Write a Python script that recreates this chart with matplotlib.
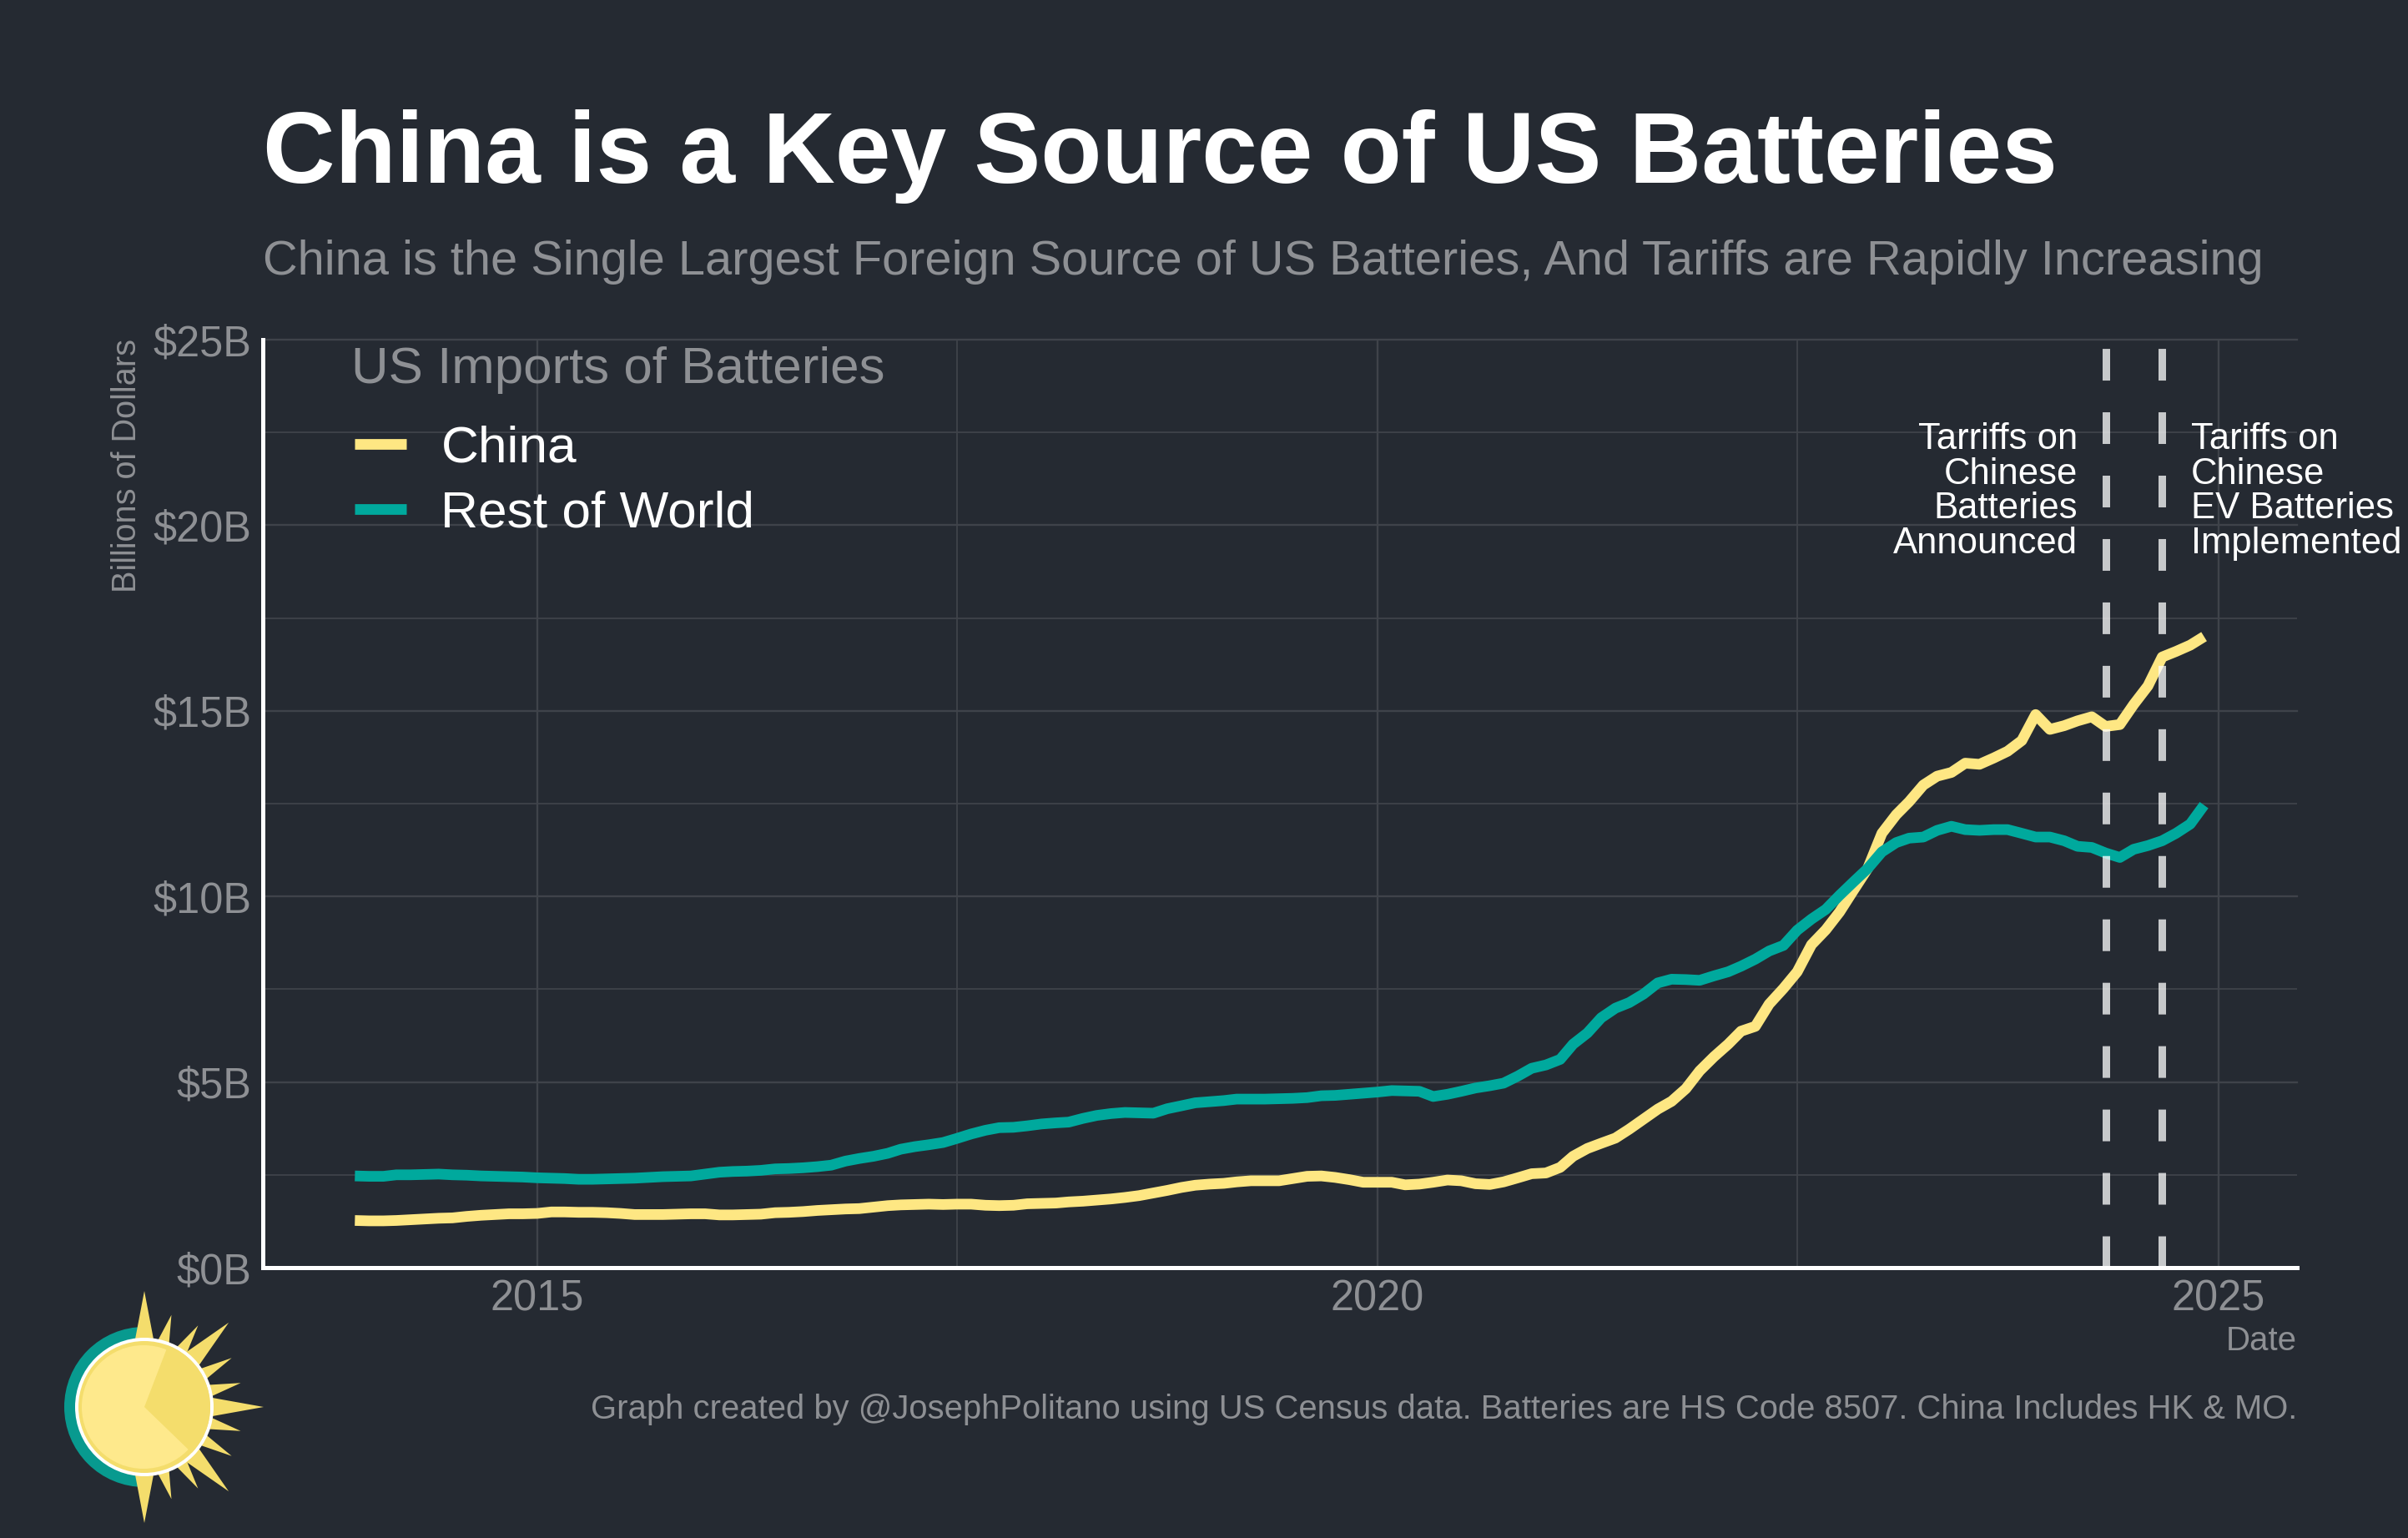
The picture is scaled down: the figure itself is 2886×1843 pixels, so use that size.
import numpy as np
import pandas as pd
import matplotlib
matplotlib.use('Agg')
import matplotlib.pyplot as plt
from matplotlib.patches import Circle, Wedge, Polygon
from matplotlib.ticker import MultipleLocator

# US imports of batteries, rolling totals, billions of dollars, monthly
dates = pd.date_range('2013-12-01', '2024-12-01', freq='MS')
china = [1.27,1.26,1.26,1.27,1.29,1.31,1.33,1.34,1.38,1.41,1.43,1.45,1.45,1.46,1.50,1.50,1.49,1.49,1.48,1.46,
         1.43,1.43,1.43,1.44,1.45,1.45,1.42,1.42,1.43,1.44,1.48,1.49,1.51,1.54,1.56,1.58,1.59,1.63,1.67,1.69,
         1.70,1.71,1.70,1.71,1.71,1.68,1.67,1.68,1.72,1.73,1.74,1.77,1.79,1.82,1.85,1.89,1.94,2.01,2.08,2.16,
         2.22,2.25,2.27,2.31,2.34,2.34,2.34,2.40,2.46,2.47,2.43,2.37,2.30,2.30,2.30,2.23,2.25,2.30,2.36,2.34,
         2.26,2.24,2.31,2.42,2.53,2.55,2.70,3.00,3.21,3.35,3.49,3.73,4.00,4.27,4.48,4.82,5.30,5.68,6.02,6.37,
         6.50,7.10,7.52,7.97,8.70,9.10,9.58,10.18,10.75,11.7,12.2,12.55,13.0,13.24,13.34,13.59,13.56,13.73,13.91,14.2,
         14.9,14.5,14.6,14.73,14.84,14.58,14.63,15.17,15.67,16.45,16.6,16.77,17.0]
rest_of_world = [2.47,2.46,2.46,2.50,2.50,2.51,2.52,2.50,2.49,2.47,2.46,2.45,2.44,2.42,2.41,2.40,2.38,2.38,2.39,2.40,
                 2.41,2.43,2.45,2.46,2.47,2.52,2.57,2.59,2.60,2.62,2.66,2.67,2.69,2.72,2.76,2.87,2.94,3.00,3.08,3.19,
                 3.26,3.31,3.37,3.48,3.60,3.70,3.77,3.78,3.82,3.87,3.90,3.92,4.02,4.10,4.15,4.18,4.17,4.16,4.28,4.36,
                 4.44,4.47,4.50,4.54,4.54,4.54,4.55,4.56,4.58,4.63,4.64,4.67,4.70,4.73,4.77,4.76,4.75,4.61,4.67,4.75,
                 4.84,4.90,4.97,5.16,5.37,5.46,5.61,6.02,6.32,6.73,6.99,7.14,7.37,7.67,7.77,7.76,7.74,7.86,7.97,8.12,
                 8.31,8.53,8.68,9.09,9.39,9.65,10.03,10.40,10.75,11.2,11.45,11.57,11.6,11.78,11.89,11.8,11.78,11.8,11.8,11.7,
                 11.6,11.6,11.5,11.35,11.32,11.17,11.05,11.27,11.37,11.5,11.7,11.95,12.46]
tariff_dates = ['2024-05-01', '2024-09-01']
year_ticks = ['2015-01-01', '2020-01-01', '2025-01-01']
minor_years = ['2017-07-01', '2022-07-01']

W, H = 2886, 1843
BG = '#252a32'
YELLOW = '#fee783'
TEAL = '#00a99d'
GREY = '#8e9094'
GRID = '#3f434a'

plt.rcParams['font.family'] = ['Liberation Sans', 'DejaVu Sans']

fig = plt.figure(figsize=(W / 200, H / 200), dpi=200, facecolor=BG)
ax = fig.add_axes([315 / W, 1 - 1519 / H, (2753 - 315) / W, (1519 - 407) / H], facecolor=BG)

ax.plot(dates, china, color=YELLOW, lw=4.6, label='China', solid_joinstyle='round', solid_capstyle='butt', zorder=4)
ax.plot(dates, rest_of_world, color=TEAL, lw=4.6, label='Rest of World', solid_joinstyle='round', solid_capstyle='butt', zorder=4)

for d in tariff_dates:
    ax.axvline(pd.Timestamp(d), color='white', alpha=0.75, lw=3.24, ls=(0, (4.22, 4.22)), zorder=5)

ax.set_xlim(pd.Timestamp('2013-05-15'), pd.Timestamp('2025-06-21'))
ax.set_ylim(0, 25)
ax.set_xticks(pd.to_datetime(year_ticks))
ax.set_xticklabels(['2015', '2020', '2025'])
ax.set_xticks(pd.to_datetime(minor_years), minor=True)
ax.yaxis.set_major_locator(MultipleLocator(5))
ax.yaxis.set_minor_locator(MultipleLocator(2.5))
ax.yaxis.set_major_formatter(lambda v, pos: f'${v:.0f}B')
ax.grid(True, which='major', color=GRID, lw=0.85)
ax.grid(True, which='minor', color=GRID, lw=0.65)
ax.set_axisbelow(True)
for gl in ax.get_ygridlines():
    gl.set_clip_on(False)
ax.tick_params(which='both', length=0)
ax.tick_params(axis='both', labelsize=18.2, labelcolor=GREY)
ax.tick_params(axis='y', pad=5)
ax.tick_params(axis='x', pad=5)

for s in ['top', 'right']:
    ax.spines[s].set_visible(False)
for s in ['left', 'bottom']:
    ax.spines[s].set_color('white')
    ax.spines[s].set_linewidth(1.8)

leg = ax.legend(loc='upper left', bbox_to_anchor=(0.0452, 0.9078), frameon=False, fontsize=22.4, labelcolor='white',
                handlelength=1.0, handletextpad=0.66, labelspacing=0.34, borderaxespad=0, borderpad=0)
for h in leg.get_lines():
    h.set_solid_capstyle('butt')
fig.text(421 / W, 1 - 443 / H, 'US Imports of Batteries', color=GREY, fontsize=22.3, ha='left', va='center')

ax.text(2490 / W, 1 - 589 / H, 'Tarriffs on\nChinese\nBatteries\nAnnounced', transform=fig.transFigure, color='white',
        fontsize=15.7, ha='right', va='center', linespacing=1.03, zorder=6)
ax.text(2626 / W, 1 - 589 / H, 'Tariffs on\nChinese\nEV Batteries\nImplemented', transform=fig.transFigure, color='white',
        fontsize=15.7, ha='left', va='center', linespacing=1.03, zorder=6)

fig.text(315 / W, 1 - 188 / H, 'China is a Key Source of US Batteries', color='white', fontsize=43.15,
         fontweight='bold', ha='left', va='center')
fig.text(315 / W, 1 - 314 / H, 'China is the Single Largest Foreign Source of US Batteries, And Tariffs are Rapidly Increasing',
         color=GREY, fontsize=20.8, ha='left', va='center')
fig.text(152 / W, 1 - 406 / H, 'Billions of Dollars', color=GREY, fontsize=14.3, rotation=90, ha='center', va='top')
fig.text(2753 / W, 1 - 1607 / H, 'Date', color=GREY, fontsize=14.5, ha='right', va='center')
fig.text(2753 / W, 1 - 1689 / H, 'Graph created by @JosephPolitano using US Census data. Batteries are HS Code 8507. China Includes HK & MO.',
         color=GREY, fontsize=14.4, ha='right', va='center')

# sun logo, in pixel coordinates
logo = fig.add_axes([0, 0, 1, 1], facecolor='none')
logo.set_xlim(0, W)
logo.set_ylim(H, 0)
logo.axis('off')
cx, cy = 173, 1686
SUN = '#f4dd6c'
logo.add_patch(Wedge((cx, cy), 96, 90, 270, color='#089a8f', lw=0))
ray_tips = [(90, 139, 12), (73.6, 115, 8), (56.6, 117, 8), (45, 143, 12), (29.3, 120, 8), (14, 119, 8), (0, 143, 12),
            (-14, 119, 8), (-29.3, 120, 8), (-45, 143, 12), (-56.6, 117, 8), (-73.6, 115, 8), (-90, 139, 12)]
for ang, r, hw in ray_tips:
    a = np.radians(ang)
    ux, uy = np.cos(a), -np.sin(a)
    logo.add_patch(Polygon([(cx + r * ux, cy + r * uy),
                            (cx + 76 * ux - hw * uy, cy + 76 * uy + hw * ux),
                            (cx + 76 * ux + hw * uy, cy + 76 * uy - hw * ux)], color=SUN, lw=0))
logo.add_patch(Circle((cx, cy), 83, color='white', lw=0))
logo.add_patch(Circle((cx, cy), 79, color=SUN, lw=0))
logo.add_patch(Circle((cx - 1, cy), 74, color='#fee98c', lw=0))
logo.add_patch(Wedge((cx, cy), 79, -69, 44, color=SUN, lw=0))

fig.savefig('out.png', dpi=200, facecolor=BG)
